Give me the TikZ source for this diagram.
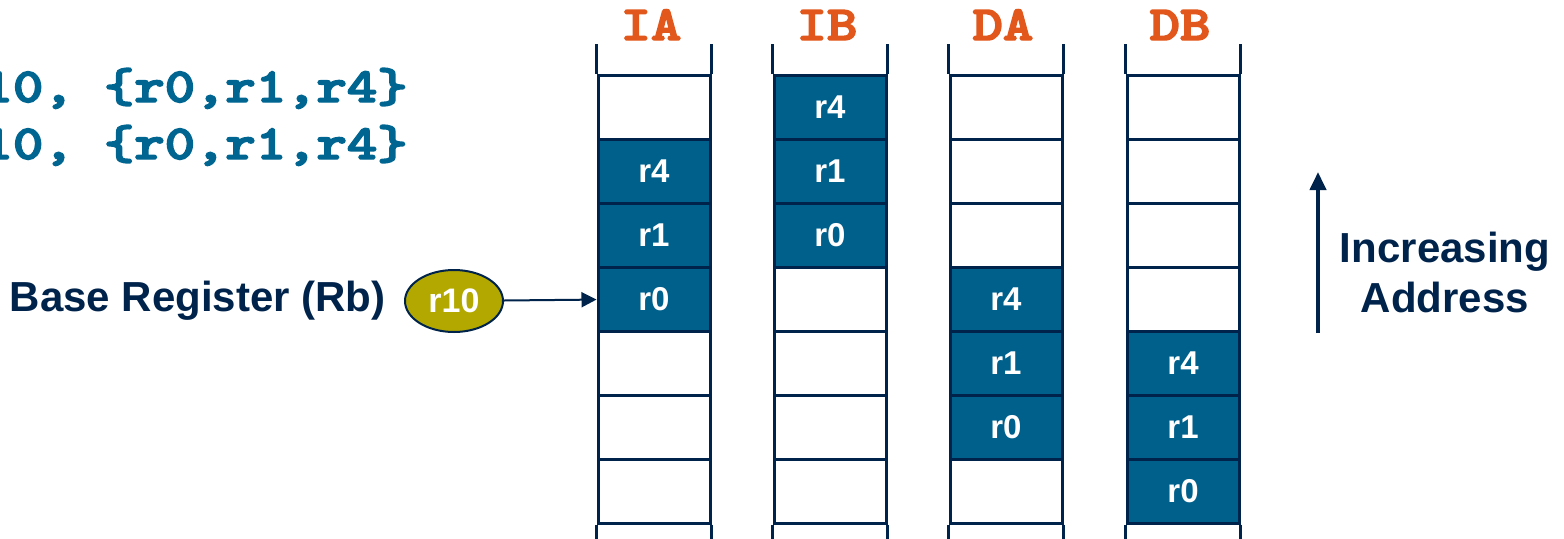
\documentclass[tikz,border=0pt]{standalone}
\usepackage{fontspec}
\setmainfont{Liberation Sans}
\newfontfamily\codefont[FakeBold=3]{lmmonolt10-bold.otf}
\usetikzlibrary{arrows.meta,positioning,shapes.geometric}
\definecolor{cellblue}{RGB}{0,96,140}
\definecolor{codeblue}{RGB}{0,102,145}
\definecolor{linenavy}{RGB}{0,35,75}
\definecolor{modeorange}{RGB}{226,88,28}
\definecolor{baseolive}{RGB}{178,168,0}
\newcommand{\widett}[1]{\scalebox{1.18}[1]{#1}}

\begin{document}
\begin{tikzpicture}[x=0.5pt,y=0.5pt]
\tikzstyle{cell}=[draw=linenavy,line width=1.5pt,minimum width=56pt,minimum height=32pt,inner sep=0pt]
\tikzstyle{stored}=[cell,fill=cellblue,text=white,font=\fontsize{16.5}{17}\selectfont\bfseries]
\tikzstyle{wall}=[draw=linenavy,line width=1.5pt]
\tikzstyle{mode}=[text=modeorange,font=\codefont\fontsize{24.5}{26}\selectfont,anchor=base,inner sep=0pt]
\tikzstyle{code}=[text=codeblue,font=\codefont\fontsize{24.5}{26}\selectfont,anchor=base east,inner sep=0pt]
\tikzstyle{caption}=[text=linenavy,font=\fontsize{21}{25}\selectfont\bfseries,inner sep=0pt]

\useasboundingbox (0,0) rectangle (1564,538);

% instructions
\node[code] (ldm) at (408,436) {\widett{r10, \{r0,r1,r4\}}};
\node[code] (stm) at (408,379) {\widett{r10, \{r0,r1,r4\}}};

% memory columns
\foreach \m/\x in {IA/654,IB/830,DA/1006,DB/1183} {
  \foreach \r in {1,...,7}
    \node[cell] (\m-\r) at (\x,495-64*\r) {};
  \draw[wall] (\m-1.north west) -- ++(0,30);
  \draw[wall] (\m-1.north east) -- ++(0,30);
  \draw[wall] (\m-7.south west) -- ++(0,-20);
  \draw[wall] (\m-7.south east) -- ++(0,-20);
  \node[mode] (\m-name) at (\x-3,498) {\widett{\m}};
}

% stored registers
\foreach \m/\r/\v in {IA/2/r4,IA/3/r1,IA/4/r0,IB/1/r4,IB/2/r1,IB/3/r0,
                      DA/4/r4,DA/5/r1,DA/6/r0,DB/5/r4,DB/6/r1,DB/7/r0}
  \node[stored] (\m-\v) at (\m-\r) {\v};

% base register
\node[ellipse,draw=linenavy,line width=1pt,fill=baseolive,minimum width=49pt,minimum height=31pt,inner sep=0pt,
      text=white,font=\fontsize{17}{17}\selectfont\bfseries] (r10) at (454,237) {r10};
\node[caption,left=9pt of r10] (basereg) {Base Register (Rb)};
\draw[linenavy,line width=1pt,-{Triangle[length=7.5pt,width=7.5pt]}] (r10) -- (IA-r0);

% address direction
\node[caption,align=center] (incaddr) at (1445,266) {Increasing\\Address};
\coordinate (addrlow) at (1318,205);
\coordinate (addrhigh) at (1318,366);
\draw[linenavy,line width=2pt,-{Triangle[length=9pt,width=8pt]}] (addrlow) -- (addrhigh);
\end{tikzpicture}
\end{document}
